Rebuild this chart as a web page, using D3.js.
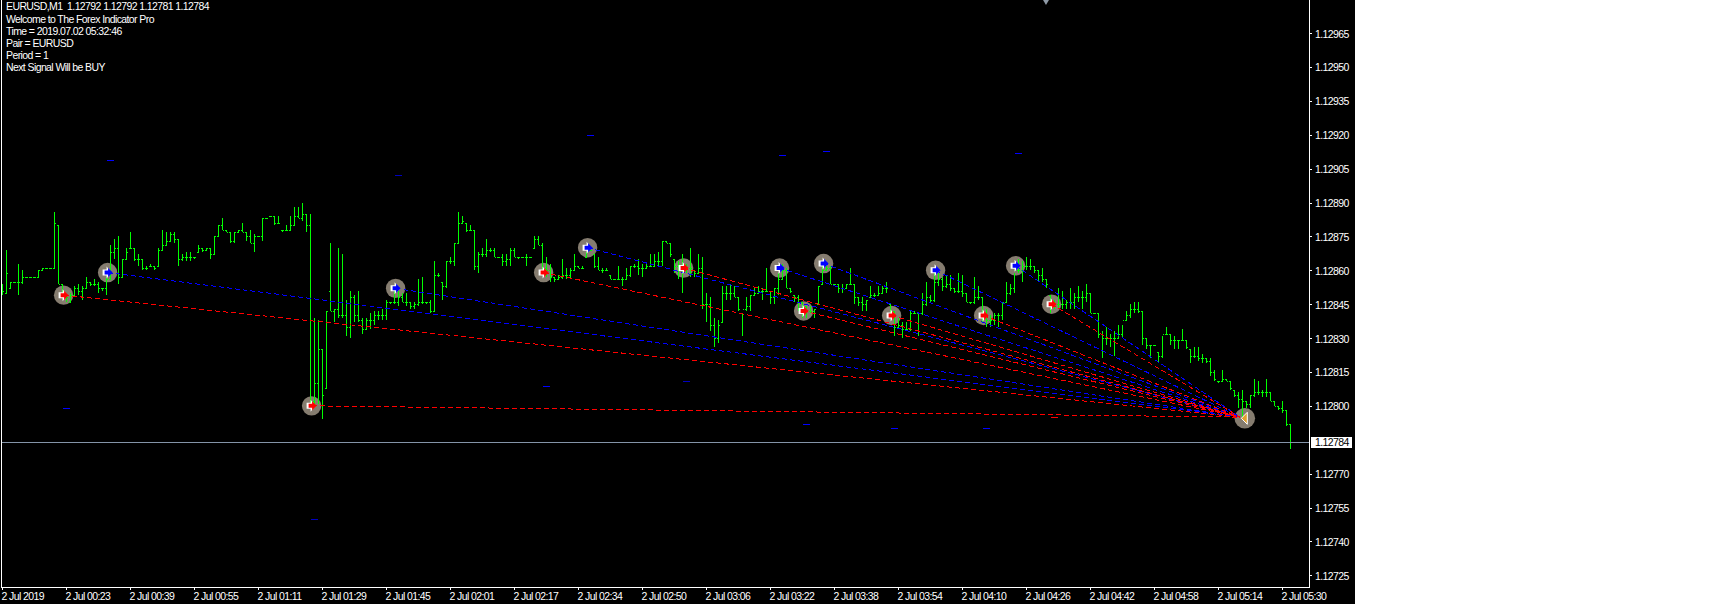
<!DOCTYPE html>
<html><head><meta charset="utf-8">
<script src="https://d3js.org/d3.v7.min.js"></script>
<style>
html,body{margin:0;padding:0;background:#fff;overflow:hidden}
svg{display:block}
text{font-family:"Liberation Sans",sans-serif;font-size:10.5px;letter-spacing:-.6px;fill:#fff}
</style></head><body>
<svg id="c" width="1712" height="604"></svg>
<script>
// prices are 1.12000 + n * 0.00001
const base = 1.12;
const highs = [854,869,855,855,863,860,857,857,857,860,
861,861,861,886,880,854,848,850,853,854,
853,857,855,856,855,852,857,871,874,875,
865,870,877,870,867,865,862,863,862,870,
878,877,877,877,874,867,868,868,866,871,
870,870,870,875,880,883,878,877,877,878,
881,877,878,876,875,883,883,884,884,884,
878,880,884,888,888,890,885,885,839,838,
825,842,872,843,870,867,847,851,849,851,
839,839,841,842,842,843,847,846,851,851,
850,850,846,846,856,857,846,847,864,859,
855,864,866,872,886,884,881,880,878,868,
870,874,870,870,866,867,867,870,870,866,
866,867,866,875,875,872,866,863,857,858,
865,861,861,867,862,862,868,870,867,866,
861,861,858,856,862,857,861,862,863,865,
863,863,867,867,868,873,873,872,865,864,
867,863,870,860,867,866,850,848,839,838,
853,853,854,853,848,841,848,849,852,853,
852,861,851,852,859,863,861,852,849,849,
846,844,844,843,853,862,862,862,854,854,
854,854,861,854,848,848,847,853,850,853,
853,855,845,842,839,837,837,842,842,841,
850,855,849,859,859,857,858,858,852,859,
858,850,846,857,853,848,843,840,841,841,
846,855,854,859,865,864,866,865,862,860,
861,856,849,847,852,851,847,852,850,853,
851,854,850,841,841,833,835,832,833,836,
836,842,845,846,846,842,830,827,827,824,
831,835,832,831,829,834,829,825,826,826,
823,821,821,816,811,816,812,811,807,806,
807,802,805,812,811,807,812,806,802,800,802,798,792];
const lows = [849,850,852,855,849,854,857,857,857,857,
860,861,861,861,854,848,846,846,848,849,
847,852,853,853,850,851,849,856,865,854,
857,865,870,864,862,860,860,862,860,862,
869,871,873,872,862,864,864,864,865,868,
868,869,865,867,875,878,877,872,872,877,
877,873,872,868,875,873,883,884,880,881,
877,878,878,880,883,882,877,800,801,801,
794,808,842,837,839,839,831,830,837,837,
832,834,834,836,838,838,838,845,845,844,
846,844,843,843,844,845,845,841,842,857,
847,852,863,862,872,881,877,878,860,859,
866,866,868,866,866,862,862,862,866,865,
866,862,866,870,871,859,857,855,855,856,
856,856,856,860,861,861,866,869,861,860,
859,860,856,856,856,853,856,857,861,858,
857,861,862,862,862,862,872,866,859,856,
850,859,857,857,859,843,837,833,826,828,
837,847,847,848,842,831,842,842,849,850,
847,851,845,845,849,856,852,850,846,842,
839,839,841,839,845,854,860,854,854,850,
850,852,854,845,844,842,842,848,848,849,
850,850,839,831,834,830,833,833,841,831,
840,844,846,846,853,851,852,851,850,850,
848,846,845,845,847,837,835,835,836,835,
838,846,849,850,859,855,860,860,859,855,
855,852,841,843,843,843,843,843,843,846,
843,846,841,841,830,821,827,826,822,830,
830,838,839,841,841,827,825,821,827,819,
821,832,827,825,825,829,825,819,821,820,
819,819,813,811,810,811,811,807,804,799,
795,799,799,804,805,804,804,802,800,798,797,791,781];
const opens = [850,850,852,855,855,855,857,857,857,857,
860,861,861,861,880,854,848,846,849,852,
851,852,855,854,854,852,852,856,868,870,
857,865,870,870,865,865,861,862,862,862,
869,871,873,876,874,865,866,866,866,868,
870,869,870,867,875,880,878,877,873,877,
878,877,875,872,875,875,883,884,884,881,
878,878,878,880,884,883,885,880,802,810,
825,808,851,842,843,840,840,835,848,840,
838,834,838,838,840,840,840,846,846,846,
848,846,846,844,845,846,846,846,842,858,
855,853,864,864,872,881,881,878,878,862,
867,867,869,869,866,866,864,865,869,866,
866,866,866,870,874,871,861,860,857,856,
857,858,858,860,862,861,866,869,867,862,
860,860,858,856,856,856,856,858,862,862,
861,861,862,862,864,864,873,872,865,862,
860,860,861,860,859,861,845,845,836,830,
837,850,850,850,848,841,843,844,849,850,
851,851,851,848,852,856,860,852,849,848,
846,844,842,842,845,854,860,861,854,854,
852,852,854,854,848,846,845,848,849,849,
850,852,845,842,835,836,834,834,841,841,
841,845,848,847,855,856,853,854,852,851,
851,850,846,846,848,848,841,838,838,840,
840,846,850,852,860,860,862,862,862,860,
858,856,849,845,845,845,845,846,846,848,
848,848,850,841,841,832,830,830,830,830,
832,838,840,843,843,842,830,827,827,824,
822,832,832,829,829,829,829,825,822,822,
821,821,820,815,811,811,812,811,807,805,
803,802,801,805,806,806,806,806,802,800,799,798,792];
const closes = [851,859,855,855,855,857,857,857,857,860,
861,861,861,881,854,849,848,849,852,851,
852,855,854,854,852,852,856,868,870,857,
865,868,870,865,865,861,861,862,861,869,
871,873,876,874,865,866,866,866,866,870,
869,870,867,875,880,878,877,873,877,878,
877,875,872,875,875,883,883,884,881,881,
878,878,880,884,883,885,880,802,810,825,
805,842,842,843,840,840,835,848,840,838,
834,838,838,840,840,840,846,846,846,848,
846,846,844,845,846,846,846,842,858,858,
853,864,864,872,881,882,878,878,862,867,
867,869,869,866,866,864,865,869,866,866,
866,866,866,874,871,861,860,857,856,857,
858,858,860,862,861,861,869,869,862,860,
860,860,856,856,856,856,858,862,862,861,
861,862,862,864,864,873,872,867,862,860,
860,861,861,859,861,845,845,836,830,836,
850,850,850,848,843,843,844,849,850,851,
851,851,848,852,856,860,852,851,848,846,
844,842,842,843,853,860,861,854,854,852,
852,854,854,848,846,845,847,849,849,850,
852,852,842,835,836,834,834,841,841,841,
845,848,847,855,856,853,854,852,851,851,
850,846,846,848,848,841,838,838,840,840,
846,850,852,860,860,862,862,862,860,858,
856,854,845,845,845,845,846,846,848,848,
848,850,841,841,832,830,830,830,830,832,
838,840,843,843,842,830,827,827,827,822,
832,832,829,829,829,829,826,822,822,821,
821,820,815,812,811,812,811,808,805,803,
802,801,805,806,806,806,806,802,800,799,798,792,784];

const signalIdx = [15.4,26.4,77.4,98.4,135.4,146.4,170.4,194.4,200.4,205.4,222.4,233.4,245.4,253.4,262.4];
const signalVal = [849,859,800,852,859,870,861,861,842,863,840,860,840,862,845];
const signalKind = ["sell","buy","sell","buy","sell","buy","sell","buy","sell","buy","sell","buy","sell","buy","sell"];
const targetIdx = 309.5, targetVal = 795;
const finalIdx = 310.7, finalVal = 794.5;

const markerIdx = [27,99,16,78,136,171,201,223,246,263,147,195,206,254];
const markerVal = [909,902,799,750,809,811,792,790,790,795,920,911,913,912];
const markerKind = ["buy","dim","buy","dim","buy","dim","buy","buy","buy","sell","buy","buy","buy","buy"];

const yTicks = [965,950,935,920,905,890,875,860,845,830,815,800,770,755,740,725];
const xTickIdx = [0,16,32,48,64,80,96,112,128,144,160,176,192,208,224,240,256,272,288,304,320];
const xTickLabels = ["2 Jul 2019","2 Jul 00:23","2 Jul 00:39","2 Jul 00:55","2 Jul 01:11","2 Jul 01:29","2 Jul 01:45","2 Jul 02:01","2 Jul 02:17","2 Jul 02:34","2 Jul 02:50","2 Jul 03:06","2 Jul 03:22","2 Jul 03:38","2 Jul 03:54","2 Jul 04:10","2 Jul 04:26","2 Jul 04:42","2 Jul 04:58","2 Jul 05:14","2 Jul 05:30"];
const lastPrice = 784;
const infoLines = ["EURUSD,M1  1.12792 1.12792 1.12781 1.12784","Welcome to The Forex Indicator Pro","Time = 2019.07.02 05:32:46","Pair = EURUSD","Period = 1","Next Signal Will be BUY"];

const colors = {sell:"#ff0000",buy:"#0000ff",dim:"#0000c0",bar:"#00ff00",disc:"#857c6f"};
const price = n => base + n * 1e-5;
const x = d3.scaleLinear().domain([0,322]).range([2,1290]);
const y = d3.scaleLinear().domain([price(725),price(860)]).range([575.3,270.3]);
const svg = d3.select("#c");
svg.append("rect").attr("width",1355).attr("height",604).attr("fill","#000");

// discs sit behind the bars
const sigs = signalIdx.map((v,i)=>({i:v,n:signalVal[i],k:signalKind[i]}));
svg.append("g").selectAll("circle").data(sigs).join("circle")
  .attr("cx",d=>x(d.i)).attr("cy",d=>y(price(d.n))).attr("r",9.7).attr("fill",colors.disc);
svg.append("circle").attr("cx",x(finalIdx)).attr("cy",y(price(finalVal))).attr("r",10.3).attr("fill",colors.disc);

// OHLC bars
const bars = svg.append("g").attr("stroke",colors.bar).attr("shape-rendering","crispEdges").attr("fill","none");
bars.selectAll("path").data(highs.map((h,i)=>i)).join("path").attr("d",i=>{
  const cx = Math.round(x(i))+.5;
  const yh = Math.round(y(price(highs[i]))), yl = Math.round(y(price(lows[i])));
  const yo = Math.round(y(price(opens[i])))+.5, yc = Math.round(y(price(closes[i])))+.5;
  return `M${cx},${yh}V${Math.max(yl,yh+1)}M${cx-1.5},${yo}H${cx}M${cx},${yc}H${cx+1.5}`;
});

// signal lines
const tx = x(targetIdx), ty = y(price(targetVal));
svg.append("g").attr("shape-rendering","crispEdges").attr("fill","none").attr("stroke-dasharray","5,3")
 .selectAll("line").data(sigs).join("line")
  .attr("x1",d=>x(d.i)).attr("y1",d=>y(price(d.n))).attr("x2",tx).attr("y2",ty)
  .attr("stroke",d=>colors[d.k]);

// short markers
svg.append("g").attr("shape-rendering","crispEdges").selectAll("line").data(markerIdx.map((v,i)=>i)).join("line")
  .attr("x1",i=>x(markerIdx[i])-3.5).attr("x2",i=>x(markerIdx[i])+3.5)
  .attr("y1",i=>Math.round(y(price(markerVal[i])))+.5).attr("y2",i=>Math.round(y(price(markerVal[i])))+.5)
  .attr("stroke",i=>colors[markerKind[i]]);

// arrows: white backing shifted left, coloured arrow on top
const arrow = "M-3,-2H0.5V-4.5L5,0L0.5,4.5V2H-3Z";
const arrowBack = "M-5,-3H-1V-6L4,0L-1,6V3H-5Z";
const ag = svg.append("g").selectAll("g").data(sigs).join("g")
  .attr("transform",d=>`translate(${x(d.i)},${y(price(d.n))})`);
ag.append("path").attr("d",arrowBack).attr("fill","#fff");
ag.append("path").attr("d",arrow).attr("fill",d=>colors[d.k]);
svg.append("path").attr("transform",`translate(${x(finalIdx)},${y(price(finalVal))})`)
  .attr("d","M-3.5,0L2.5,-6V6Z").attr("fill","#e0a030").attr("stroke","#fff").attr("stroke-width",1);

// diamond clipped at top edge
svg.append("path").attr("d",d3.symbol(d3.symbolDiamond,30)()).attr("transform",`translate(${x(261)},0)`).attr("fill","#8f9aa6");

// price line
svg.append("line").attr("x1",2).attr("x2",1309).attr("y1",Math.round(y(price(lastPrice)))+.5).attr("y2",Math.round(y(price(lastPrice)))+.5)
  .attr("stroke","#8494a8").attr("shape-rendering","crispEdges");

// frame & axes
svg.append("line").attr("x1",1.5).attr("x2",1.5).attr("y1",0).attr("y2",587).attr("stroke","#fff").attr("shape-rendering","crispEdges");
const yAxis = d3.axisRight(y).tickValues(yTicks.map(price)).tickFormat(d3.format(".5f")).tickSize(3).tickPadding(3);
const gy = svg.append("g").attr("transform","translate(1309,0)").call(yAxis);
gy.select(".domain").attr("d","M0.5,0V587");
gy.selectAll("text").attr("dy","0.38em");
const xAxis = d3.axisBottom(x).tickValues(xTickIdx).tickFormat((d,i)=>xTickLabels[i]).tickSize(3).tickPadding(0);
const gx = svg.append("g").attr("transform","translate(0,587)").call(xAxis);
gx.select(".domain").attr("d","M1,0.5H1310");
gx.selectAll("text").attr("text-anchor","start").attr("dx",-1).attr("y",12.5).attr("dy",0);
svg.selectAll(".tick line").attr("stroke","#fff").attr("shape-rendering","crispEdges");
svg.selectAll(".domain").attr("stroke","#fff").attr("shape-rendering","crispEdges");
svg.selectAll(".tick text").attr("fill","#fff");
gy.attr("font-family",null).attr("font-size",null); gx.attr("font-family",null).attr("font-size",null);

// current price box
const ly = y(price(lastPrice));
svg.append("rect").attr("x",1311).attr("y",Math.round(ly)-5).attr("width",41).attr("height",11).attr("fill","#fff");
svg.append("text").attr("x",1315).attr("y",Math.round(ly)+4).style("fill","#000").text(d3.format(".5f")(price(lastPrice)));

// info text
svg.append("g").selectAll("text").data(infoLines).join("text")
  .attr("x",6).attr("y",(d,i)=>i==0?9.5:22.7+(i-1)*12).style("white-space","pre").text(d=>d);
</script>
</body></html>
